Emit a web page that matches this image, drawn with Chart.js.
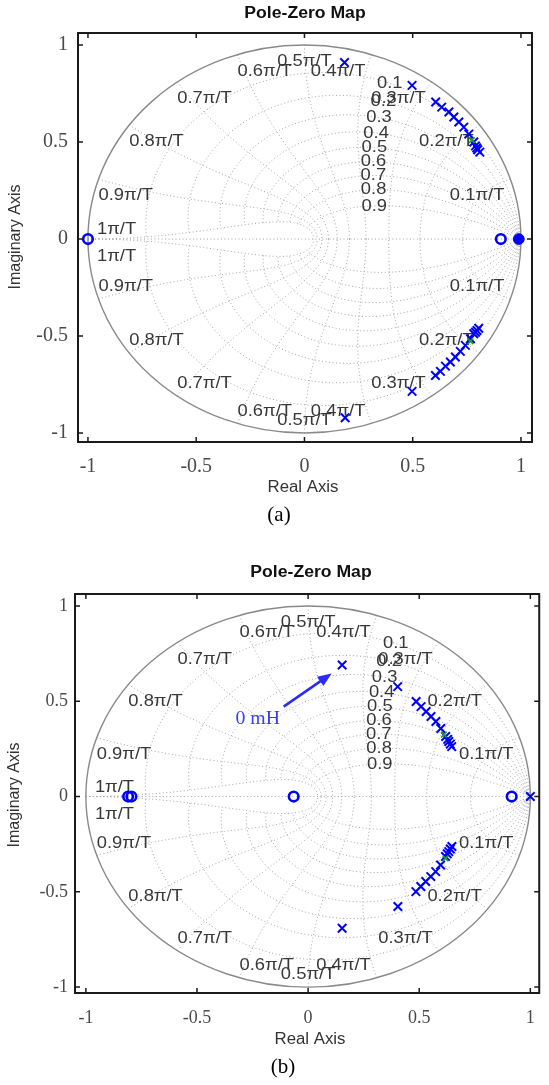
<!DOCTYPE html>
<html>
<head>
<meta charset="utf-8">
<script src="https://cdn.jsdelivr.net/npm/chart.js@4.4.1/dist/chart.umd.min.js"></script>
<style>
  html, body { margin: 0; padding: 0; background: #fff; }
  #wrap { position: relative; width: 549px; height: 1085px; overflow: hidden; }
  .panel { position: absolute; left: 0; width: 549px; }
</style>
</head>
<body>
<div id="wrap">
  <div class="panel" style="top:0;height:530px"><canvas id="chartA" width="549" height="530" style="width:549px;height:530px"></canvas></div>
  <div class="panel" style="top:530px;height:555px"><canvas id="chartB" width="549" height="555" style="width:549px;height:555px"></canvas></div>
</div>
<script>
// axis ticks and zgrid values
const tickValues = [-1, -0.5, 0, 0.5, 1];
const zetaLines = [0.1, 0.2, 0.3, 0.4, 0.5, 0.6, 0.7, 0.8, 0.9];
const wnLines = [0.1, 0.2, 0.3, 0.4, 0.5, 0.6, 0.7, 0.8, 0.9, 1];

// (a) poles / zeros
const polesA = [
  [0.185, 0.91], [0.497, 0.792], [0.606, 0.706], [0.634, 0.68], [0.667, 0.655],
  [0.69, 0.629], [0.713, 0.603], [0.736, 0.577], [0.759, 0.541], [0.782, 0.5],
  [0.79, 0.48], [0.796, 0.469], [0.8, 0.46], [0.81, 0.448],
  [0.188, -0.921], [0.497, -0.785], [0.605, -0.703], [0.628, -0.682], [0.651, -0.655],
  [0.674, -0.634], [0.697, -0.608], [0.72, -0.579], [0.743, -0.548], [0.767, -0.514],
  [0.782, -0.488], [0.79, -0.48], [0.797, -0.471], [0.805, -0.46]
];
const zerosA = [[-1, 0], [0.907, 0]];
const stackedA = [[0.99, 0]];
const greenA = [[0.773, 0.51], [0.767, -0.527]];

// (b) poles / zeros
const polesB = [
  [0.153, 0.69], [0.403, 0.577], [0.486, 0.499], [0.508, 0.472], [0.531, 0.446],
  [0.553, 0.42], [0.575, 0.394], [0.597, 0.357], [0.619, 0.315], [0.628, 0.3],
  [0.633, 0.289], [0.64, 0.275], [0.646, 0.262],
  [0.153, -0.691], [0.404, -0.577], [0.485, -0.499], [0.507, -0.472], [0.529, -0.446],
  [0.552, -0.42], [0.574, -0.394], [0.596, -0.359], [0.618, -0.315], [0.626, -0.3],
  [0.633, -0.289], [0.64, -0.275], [0.647, -0.262],
  [1.0, 0]
];
const zerosB = [[-0.81, 0], [-0.795, 0], [-0.065, 0], [0.916, 0]];
const greenB = [[0.611, 0.325], [0.618, -0.324]];

const BLUE = '#0000ff';

function dampCurve(z, s) {
  const pts = [];
  for (let i = 0; i <= 160; i++) {
    const wn = Math.PI * i / 160;
    const r = Math.exp(-z * wn), th = wn * Math.sqrt(1 - z * z);
    pts.push([r * Math.cos(th), s * r * Math.sin(th)]);
  }
  return pts;
}

function freqCurve(f, s) {
  const pts = [];
  const wn = f * Math.PI;
  for (let i = 0; i <= 120; i++) {
    const z = i / 120;
    const r = Math.exp(-z * wn), th = wn * Math.sqrt(1 - z * z);
    pts.push([r * Math.cos(th), s * r * Math.sin(th)]);
  }
  return pts;
}

function drawText(ctx, text, x, y, font, color, align, base, sx) {
  ctx.save();
  ctx.translate(x, y);
  ctx.scale(sx || 1, 1);
  ctx.font = font;
  ctx.fillStyle = color;
  ctx.textAlign = align;
  ctx.textBaseline = base;
  ctx.fillText(text, 0, 0);
  ctx.restore();
}

const zgridPlugin = {
  id: 'zgrid',
  beforeDatasetsDraw(chart, args, opts) {
    const { ctx, chartArea: a, scales: { x, y } } = chart;
    const px = (v) => x.getPixelForValue(v);
    const py = (v) => y.getPixelForValue(v);

    ctx.save();
    ctx.beginPath();
    ctx.rect(a.left, a.top, a.right - a.left, a.bottom - a.top);
    ctx.clip();
    ctx.strokeStyle = '#a2a2a2';
    ctx.lineWidth = 1;
    ctx.setLineDash([1, 2.5]);
    const trace = (pts) => {
      ctx.beginPath();
      pts.forEach(([re, im], i) => (i ? ctx.lineTo(px(re), py(im)) : ctx.moveTo(px(re), py(im))));
      ctx.stroke();
    };
    [1, -1].forEach((s) => {
      zetaLines.forEach((z) => trace(dampCurve(z, s)));
      wnLines.forEach((f) => trace(freqCurve(f, s)));
    });
    // real axis line of the grid
    trace([[-1, 0], [1, 0]]);
    ctx.setLineDash([]);
    ctx.strokeStyle = '#8a8a8a';
    ctx.lineWidth = 1.4;
    ctx.beginPath();
    ctx.ellipse(px(0), py(0), px(1) - px(0), py(0) - py(1), 0, 0, 2 * Math.PI);
    ctx.stroke();
    ctx.restore();

    // zgrid labels
    const font = '17px "Liberation Sans", Arial, sans-serif';
    const col = '#383838';
    zetaLines.forEach((z) => {
      const wn = 1.12;
      const r = Math.exp(-z * wn), th = wn * Math.sqrt(1 - z * z);
      drawText(ctx, String(z), px(r * Math.cos(th)), py(r * Math.sin(th)), font, col, 'center', 'middle', 1.08);
    });
    wnLines.forEach((f) => {
      const th = f * Math.PI;
      const txt = (f === 1 ? '1' : f.toFixed(1)) + 'π/T';
      [1, -1].forEach((s) => {
        let X = px(Math.cos(th)), Y = py(s * Math.sin(th)), align, base;
        if (f === 1) {
          X += 9; align = 'left';
          if (s > 0) { Y -= 1; base = 'bottom'; } else { Y += 9; base = 'top'; }
        } else {
          align = f < 0.5 ? 'right' : (f > 0.5 ? 'left' : 'center');
          if (f < 0.5) X -= 6;
          if (s > 0) { Y += 8; base = 'top'; } else { Y -= 4; base = 'bottom'; }
        }
        drawText(ctx, txt, X, Y, font, col, align, base, 1.08);
      });
    });
  },
  afterDraw(chart, args, opts) {
    const { ctx, chartArea: a, scales: { x, y } } = chart;
    ctx.save();
    ctx.strokeStyle = '#1a1a1a';
    ctx.lineWidth = 2;
    ctx.strokeRect(a.left, a.top, a.right - a.left, a.bottom - a.top);
    ctx.lineWidth = 1.5;
    ctx.beginPath();
    tickValues.forEach((v) => {
      const X = x.getPixelForValue(v), Y = y.getPixelForValue(v);
      ctx.moveTo(X, a.bottom); ctx.lineTo(X, a.bottom - 5);
      ctx.moveTo(X, a.top); ctx.lineTo(X, a.top + 5);
      ctx.moveTo(a.left, Y); ctx.lineTo(a.left + 5, Y);
      ctx.moveTo(a.right, Y); ctx.lineTo(a.right - 5, Y);
    });
    ctx.stroke();
    ctx.restore();

    const sans = '"Liberation Sans", Arial, sans-serif';
    drawText(ctx, 'Pole-Zero Map', opts.title[0], opts.title[1], 'bold 16px ' + sans, '#111', 'center', 'middle', 1.1);
    drawText(ctx, 'Real Axis', opts.xTitle[0], opts.xTitle[1], '16px ' + sans, '#333', 'center', 'middle', 1.05);
    ctx.save();
    ctx.translate(opts.yTitle[0], opts.yTitle[1]);
    ctx.rotate(-Math.PI / 2);
    drawText(ctx, 'Imaginary Axis', 0, 0, '16px ' + sans, '#333', 'center', 'middle', 1);
    ctx.restore();
    drawText(ctx, opts.caption, opts.capPos[0], opts.capPos[1], '21px "Liberation Serif", "Times New Roman", serif', '#000', 'center', 'middle', 1);

    if (opts.arrow) {
      const [x0, y0] = [x.getPixelForValue(opts.arrow.from[0]), y.getPixelForValue(opts.arrow.from[1])];
      const [x1, y1] = [x.getPixelForValue(opts.arrow.to[0]), y.getPixelForValue(opts.arrow.to[1])];
      const ang = Math.atan2(y1 - y0, x1 - x0);
      ctx.save();
      ctx.strokeStyle = '#2a2aff';
      ctx.fillStyle = '#2a2aff';
      ctx.lineWidth = 2.5;
      ctx.beginPath();
      ctx.moveTo(x0, y0);
      ctx.lineTo(x1 - 10 * Math.cos(ang), y1 - 10 * Math.sin(ang));
      ctx.stroke();
      ctx.beginPath();
      ctx.moveTo(x1, y1);
      ctx.lineTo(x1 - 15 * Math.cos(ang - 0.38), y1 - 15 * Math.sin(ang - 0.38));
      ctx.lineTo(x1 - 15 * Math.cos(ang + 0.38), y1 - 15 * Math.sin(ang + 0.38));
      ctx.closePath();
      ctx.fill();
      ctx.restore();
      drawText(ctx, opts.arrow.text, x.getPixelForValue(opts.arrow.textAt[0]), y.getPixelForValue(opts.arrow.textAt[1]),
        '18px "Liberation Serif", "Times New Roman", serif', '#3a3aff', 'left', 'middle', 1.1);
    }
  }
};

function toXY(list) {
  return list.map(([re, im]) => ({ x: re, y: im }));
}

function makeChart(id, cfg) {
  const tickFont = { family: '"Liberation Serif", "Times New Roman", serif', size: cfg.tickSize };
  return new Chart(document.getElementById(id), {
    type: 'scatter',
    data: {
      datasets: [
        { label: 'green', data: toXY(cfg.green), pointStyle: 'crossRot', radius: 4, borderColor: '#1aa01a', borderWidth: 1.6 },
        { label: 'zeros', data: toXY(cfg.zeros), pointStyle: 'circle', radius: 4.8, borderColor: BLUE, backgroundColor: 'rgba(255,255,255,0)', borderWidth: 2.6 },
        { label: 'stacked', data: toXY(cfg.stacked), pointStyle: 'circle', radius: 5.4, borderColor: BLUE, backgroundColor: BLUE, borderWidth: 1 },
        { label: 'poles', data: toXY(cfg.poles), pointStyle: 'crossRot', radius: 6, borderColor: BLUE, borderWidth: 2 }
      ]
    },
    options: {
      responsive: false,
      animation: false,
      events: [],
      layout: { padding: cfg.padding },
      plugins: {
        legend: { display: false },
        tooltip: { enabled: false },
        zgrid: cfg.deco
      },
      scales: {
        x: {
          type: 'linear',
          min: cfg.xMin,
          max: cfg.xMax,
          afterBuildTicks: (s) => { s.ticks = tickValues.map((v) => ({ value: v })); },
          afterFit: (s) => { s.height = cfg.xHeight; },
          grid: { display: false, drawTicks: false },
          border: { display: false },
          ticks: { font: tickFont, color: '#4a4a4a', padding: cfg.xPad, maxRotation: 0, autoSkip: false, callback: (v) => String(v) }
        },
        y: {
          type: 'linear',
          min: cfg.yMin,
          max: cfg.yMax,
          afterBuildTicks: (s) => { s.ticks = tickValues.map((v) => ({ value: v })); },
          afterFit: (s) => { s.width = cfg.yWidth; },
          grid: { display: false, drawTicks: false },
          border: { display: false },
          ticks: { font: tickFont, color: '#4a4a4a', padding: cfg.yPad, autoSkip: false, callback: (v) => String(v) }
        }
      }
    },
    plugins: [zgridPlugin]
  });
}

makeChart('chartA', {
  poles: polesA, zeros: zerosA, stacked: stackedA, green: greenA,
  padding: { top: 33, right: 17, left: 0, bottom: 0 },
  xMin: -1.046, xMax: 1.051, yMin: -1.046, yMax: 1.062,
  xHeight: 88, yWidth: 78, xPad: 13, yPad: 10, tickSize: 20,
  deco: { title: [305, 14], xTitle: [303, 488], yTitle: [16, 237], caption: '(a)', capPos: [279, 515] }
});

makeChart('chartB', {
  poles: polesB, zeros: zerosB, stacked: [], green: greenB,
  padding: { top: 64, right: 2, left: 0, bottom: 0 },
  xMin: -1.049, xMax: 1.04, yMin: -1.031, yMax: 1.063,
  xHeight: 92, yWidth: 75, xPad: 14, yPad: 7, tickSize: 18,
  deco: {
    title: [311, 43], xTitle: [310, 510], yTitle: [15, 265], caption: '(b)', capPos: [283, 537],
    arrow: { from: [-0.11, 0.472], to: [0.106, 0.646], text: '0 mH', textAt: [-0.327, 0.404] }
  }
});
</script>
</body>
</html>
